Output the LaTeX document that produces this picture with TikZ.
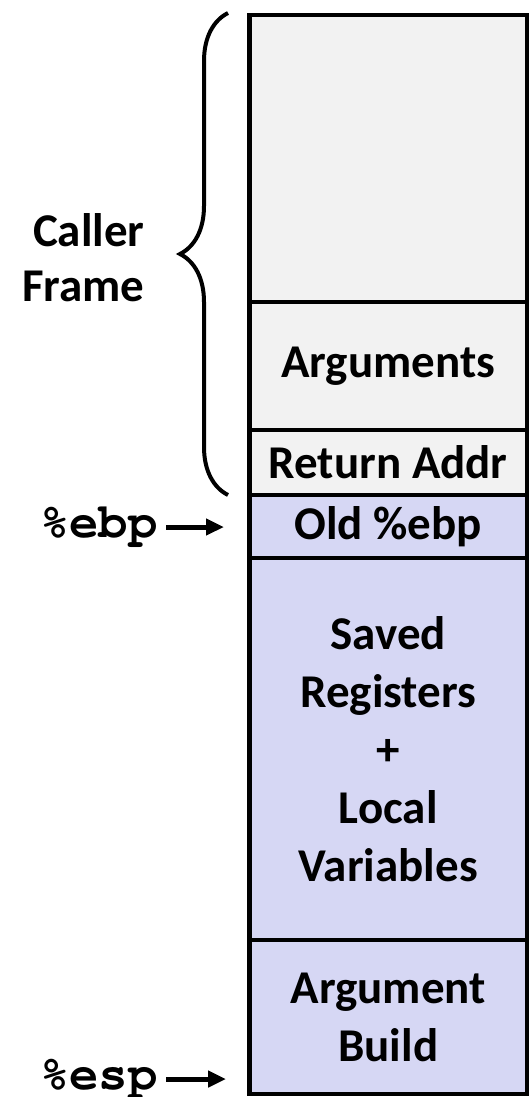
\documentclass[tikz,border=0pt]{standalone}
\usepackage{fontspec}
\setsansfont{Carlito}
\setmonofont{TeX Gyre Cursor}
\usetikzlibrary{arrows.meta,decorations.pathreplacing}
\definecolor{callerfill}{RGB}{242,242,242}
\definecolor{calleefill}{RGB}{214,215,244}
\tikzstyle{cell}=[draw,line width=2.25pt,inner sep=0pt,minimum width=138.75pt,align=center,font=\sffamily\bfseries\fontsize{23.5}{29}\selectfont]
\tikzstyle{reg}=[anchor=east,inner xsep=4pt,inner ysep=0pt,font=\ttfamily\bfseries\fontsize{24.5}{29}\selectfont]
\tikzstyle{ptr}=[draw,line width=2.5pt,-{Triangle[length=9pt,width=8pt]}]
\tikzstyle{framebrace}=[draw,line width=2pt,decorate,decoration={brace,amplitude=24pt}]
\newcommand{\stkscale}{0.5pt}

\begin{document}
\begin{tikzpicture}[x=\stkscale, y=-\stkscale]
    \useasboundingbox (0,0) rectangle (529,1097);
    % First we draw the stack cells, top to bottom
    \foreach \ypos/\hgt/\name/\col/\txt in {158.5/287/free/callerfill/{}, 366/128/args/callerfill/{Arguments}, 462.5/65/ret/callerfill/{Return Addr}, 526.5/63/old/calleefill/{Old \%ebp}, 749/382/saved/calleefill/{Saved\\Registers\\+\\Local\\Variables}, 1017/154/build/calleefill/{Argument\\Build}}
        \node[cell, fill=\col, minimum height=\hgt*\stkscale] (\name) at (388.25,\ypos) {\txt};

    % Brace for the caller frame
    \coordinate (bracetop) at (228,13);
    \coordinate (bracebot) at (228,495);
    \path[framebrace] (bracebot) -- (bracetop);
    \node[anchor=east, inner sep=0pt, align=right, font=\sffamily\bfseries\fontsize{23.5}{27.5}\selectfont] (caller) at (145,258) {Caller\\Frame};

    % Register pointers
    \node[reg] (ebp) at (166,527) {\%ebp};
    \node[reg] (esp) at (166,1079) {\%esp};
    \coordinate (ebptip) at (224,527);
    \coordinate (esptip) at (226,1079);
    \path[ptr] (ebp) -- (ebptip);
    \path[ptr] (esp) -- (esptip);
\end{tikzpicture}
\end{document}
